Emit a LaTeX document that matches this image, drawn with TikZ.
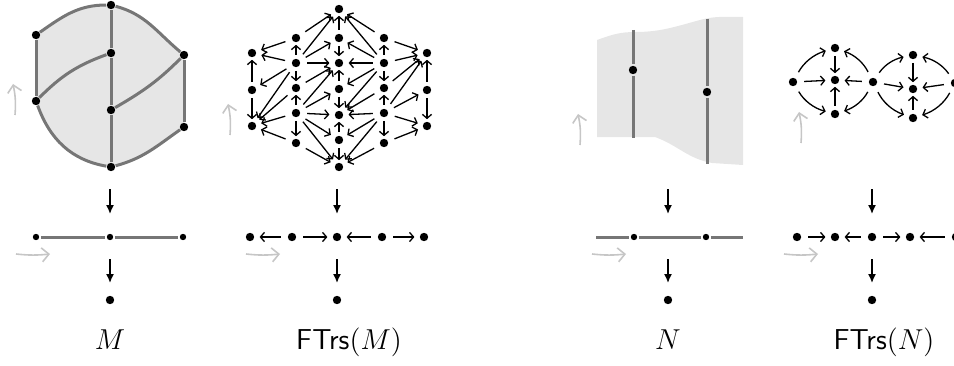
\documentclass[tikz,border=0pt]{standalone}
\usepackage{amsmath,amssymb}
\usepackage{xcolor}
\usepackage{tikz}
\usetikzlibrary{arrows.meta,backgrounds}
\definecolor{meshfill}{HTML}{E6E6E6}
\definecolor{meshedge}{HTML}{767676}
\definecolor{cuegray}{HTML}{C6C6C6}
\tikzset{
  dot/.style={circle,fill=black,inner sep=0pt,minimum size=4.2pt,outer sep=0.3pt},
  sdot/.style={dot,minimum size=3.2pt,outer sep=0.8pt},
  arr/.style={-{Straight Barb[length=2pt,width=4.6pt]},line width=0.65pt,
    shorten >=1pt,shorten <=1.6pt},
  xarr/.style={arr,shorten >=2.4pt,shorten <=3.2pt},
  proj/.style={-{Latex[length=4.5pt,width=4pt]},line width=0.75pt},
  cue/.style={-{Straight Barb[length=3.5pt,width=7pt]},cuegray,line width=0.8pt},
  cell/.style={meshedge,line width=1.5pt},
  lbl/.style={font=\fontsize{14}{16}\selectfont,anchor=base}
}
\newcommand{\upcue}[2]{\draw[cue] (#1,#2) to[bend right=8] ++(-2,31);}
\newcommand{\rightcue}[2]{\draw[cue] (#1,#2) to[bend right=6] ++(34,0);}
\newcommand{\projarrows}[1]{%
  \coordinate (#1a) at (#1,176); \coordinate (#1b) at (#1,151);
  \coordinate (#1c) at (#1,106); \coordinate (#1d) at (#1,82);
  \draw[proj] (#1a) -- (#1b);
  \draw[proj] (#1c) -- (#1d);
  \node[dot] at (#1,65) {};}

\begin{document}
\begin{tikzpicture}[x=0.5pt,y=0.5pt]
\useasboundingbox (0,0) rectangle (954,365);

% M
\node[dot] (ma) at (36,330) {};
\node[dot] (mb) at (111,360) {};
\node[dot] (mc) at (111,312) {};
\node[dot] (md) at (184,310) {};
\node[dot] (me) at (36,264) {};
\node[dot] (mf) at (111,255) {};
\node[dot] (mg) at (184,238) {};
\node[dot] (mh) at (111,198) {};
\begin{scope}[on background layer]
\fill[meshfill] (ma.center) to[out=35,in=180] (mb.center) to[out=-15,in=140] (md.center)
  -- (mg.center) to[out=215,in=15] (mh.center) to[out=170,in=-70] (me.center) -- cycle;
\end{scope}
\draw[cell] (ma) to[out=35,in=180] (mb);
\draw[cell] (mb) to[out=-15,in=140] (md);
\draw[cell] (mg) to[out=215,in=15] (mh);
\draw[cell] (mh) to[out=170,in=-70] (me);
\draw[cell] (ma) -- (me);
\draw[cell] (md) -- (mg);
\draw[cell] (me) to[out=45,in=200] (mc);
\draw[cell] (mf) to[out=30,in=225] (md);
\draw[cell] (mb) -- (mc) -- (mf) -- (mh);
\upcue{15}{250}
\node[sdot] (mp1) at (36,128) {};
\node[sdot] (mp2) at (110,128) {};
\node[sdot] (mp3) at (183,128) {};
\draw[cell] (mp1) -- (mp2) -- (mp3);
\rightcue{16}{111}
\projarrows{110}
\node[lbl] (mlab) at (110,16) {$M$};

% FTrs(M)
\node[dot] (t11) at (252,312) {};
\node[dot] (t12) at (252,275) {};
\node[dot] (t13) at (252,239) {};
\node[dot] (t21) at (296,327) {};
\node[dot] (t22) at (296,302) {};
\node[dot] (t23) at (296,277) {};
\node[dot] (t24) at (296,252) {};
\node[dot] (t25) at (296,222) {};
\node[dot] (t31) at (339,356) {};
\node[dot] (t32) at (339,327) {};
\node[dot] (t33) at (339,302) {};
\node[dot] (t34) at (339,276) {};
\node[dot] (t35) at (339,250) {};
\node[dot] (t36) at (339,225) {};
\node[dot] (t37) at (339,198) {};
\node[dot] (t41) at (384,327) {};
\node[dot] (t42) at (384,302) {};
\node[dot] (t43) at (384,277) {};
\node[dot] (t44) at (384,252) {};
\node[dot] (t45) at (384,222) {};
\node[dot] (t51) at (427,312) {};
\node[dot] (t52) at (427,275) {};
\node[dot] (t53) at (427,239) {};
\path[arr] (t12) edge (t11) edge (t13);
\path[arr] (t22) edge (t21) edge (t23);
\path[arr] (t24) edge (t23) edge (t25);
\path[arr] (t32) edge (t31) edge (t33);
\path[arr] (t34) edge (t33) edge (t35);
\path[arr] (t36) edge (t35) edge (t37);
\path[arr] (t42) edge (t41) edge (t43);
\path[arr] (t44) edge (t43) edge (t45);
\path[arr] (t52) edge (t51) edge (t53);
\path[xarr] (t21) edge (t11) edge (t31);
\path[xarr] (t22) edge (t11) edge (t12) edge (t13) edge (t31) edge (t32) edge (t33);
\path[xarr] (t23) edge (t13) edge (t33);
\path[xarr] (t24) edge (t13) edge (t33) edge (t34) edge (t35) edge (t36) edge (t37);
\path[xarr] (t25) edge (t13) edge (t37);
\path[xarr] (t41) edge (t31) edge (t51);
\path[xarr] (t42) edge (t31) edge (t32) edge (t33) edge (t34) edge (t35) edge (t51);
\path[xarr] (t43) edge (t35) edge (t51);
\path[xarr] (t44) edge (t35) edge (t36) edge (t37) edge (t51) edge (t52) edge (t53);
\path[xarr] (t45) edge (t37) edge (t53);
\upcue{230}{230}
\node[dot] (s1) at (250,128) {};
\node[dot] (s2) at (292,128) {};
\node[dot] (s3) at (337,128) {};
\node[dot] (s4) at (382,128) {};
\node[dot] (s5) at (424,128) {};
\path[xarr] (s2) edge (s1) edge (s3);
\path[xarr] (s4) edge (s3) edge (s5);
\rightcue{246}{111}
\projarrows{337}
\node[lbl] (slab) at (349,16) {$\mathsf{FTrs}(M)$};

% N
\coordinate (nl1) at (633,335);
\coordinate (nl2) at (633,227);
\node[sdot,minimum size=4.2pt] (na) at (633,295) {};
\coordinate (nr1) at (707,346);
\coordinate (nr2) at (707,201);
\node[sdot,minimum size=4.2pt] (nb) at (707,273) {};
\begin{scope}[on background layer]
\fill[meshfill] (597,228) -- (597,325) to[out=20,in=180] (635,333) to[out=0,in=195] (700,345)
  to[out=15,in=180] (743,348) -- (743,200) -- (712,202) to[out=170,in=-20] (655,228) -- cycle;
\end{scope}
\draw[cell] (nl1) -- (na) -- (nl2);
\draw[cell] (nr1) -- (nb) -- (nr2);
\upcue{580}{220}
\coordinate (np0) at (596,128);
\node[sdot] (np1) at (634,128) {};
\node[sdot] (np2) at (706,128) {};
\coordinate (np3) at (743,128);
\draw[cell] (np0) -- (np1) -- (np2) -- (np3);
\rightcue{592}{111}
\projarrows{668}
\node[lbl] (nlab) at (668,16) {$N$};

% FTrs(N)
\node[dot] (u1) at (793,283) {};
\node[dot] (u21) at (835,317) {};
\node[dot] (u22) at (835,285) {};
\node[dot] (u23) at (835,251) {};
\node[dot] (u3) at (873,283) {};
\node[dot] (u41) at (913,310) {};
\node[dot] (u42) at (913,276) {};
\node[dot] (u43) at (913,247) {};
\node[dot] (u5) at (955,282) {};
\path[xarr] (u1) edge[bend left=22] (u21) edge (u22) edge[bend right=22] (u23);
\path[arr] (u21) edge (u22);
\path[arr] (u23) edge (u22);
\path[xarr] (u3) edge[bend right=22] (u21) edge (u22) edge[bend left=22] (u23);
\path[xarr] (u3) edge[bend left=22] (u41) edge (u42) edge[bend right=22] (u43);
\path[arr] (u41) edge (u42);
\path[arr] (u43) edge (u42);
\path[xarr] (u5) edge[bend right=22] (u41) edge (u42) edge[bend left=22] (u43);
\upcue{801}{222}
\node[dot] (w1) at (797,128) {};
\node[dot] (w2) at (835,128) {};
\node[dot] (w3) at (872,128) {};
\node[dot] (w4) at (910,128) {};
\node[dot] (w5) at (956,128) {};
\path[xarr] (w1) edge (w2);
\path[xarr] (w3) edge (w2) edge (w4);
\path[xarr] (w5) edge (w4);
\rightcue{784}{111}
\projarrows{872}
\node[lbl] (wlab) at (884,16) {$\mathsf{FTrs}(N)$};
\end{tikzpicture}
\end{document}
